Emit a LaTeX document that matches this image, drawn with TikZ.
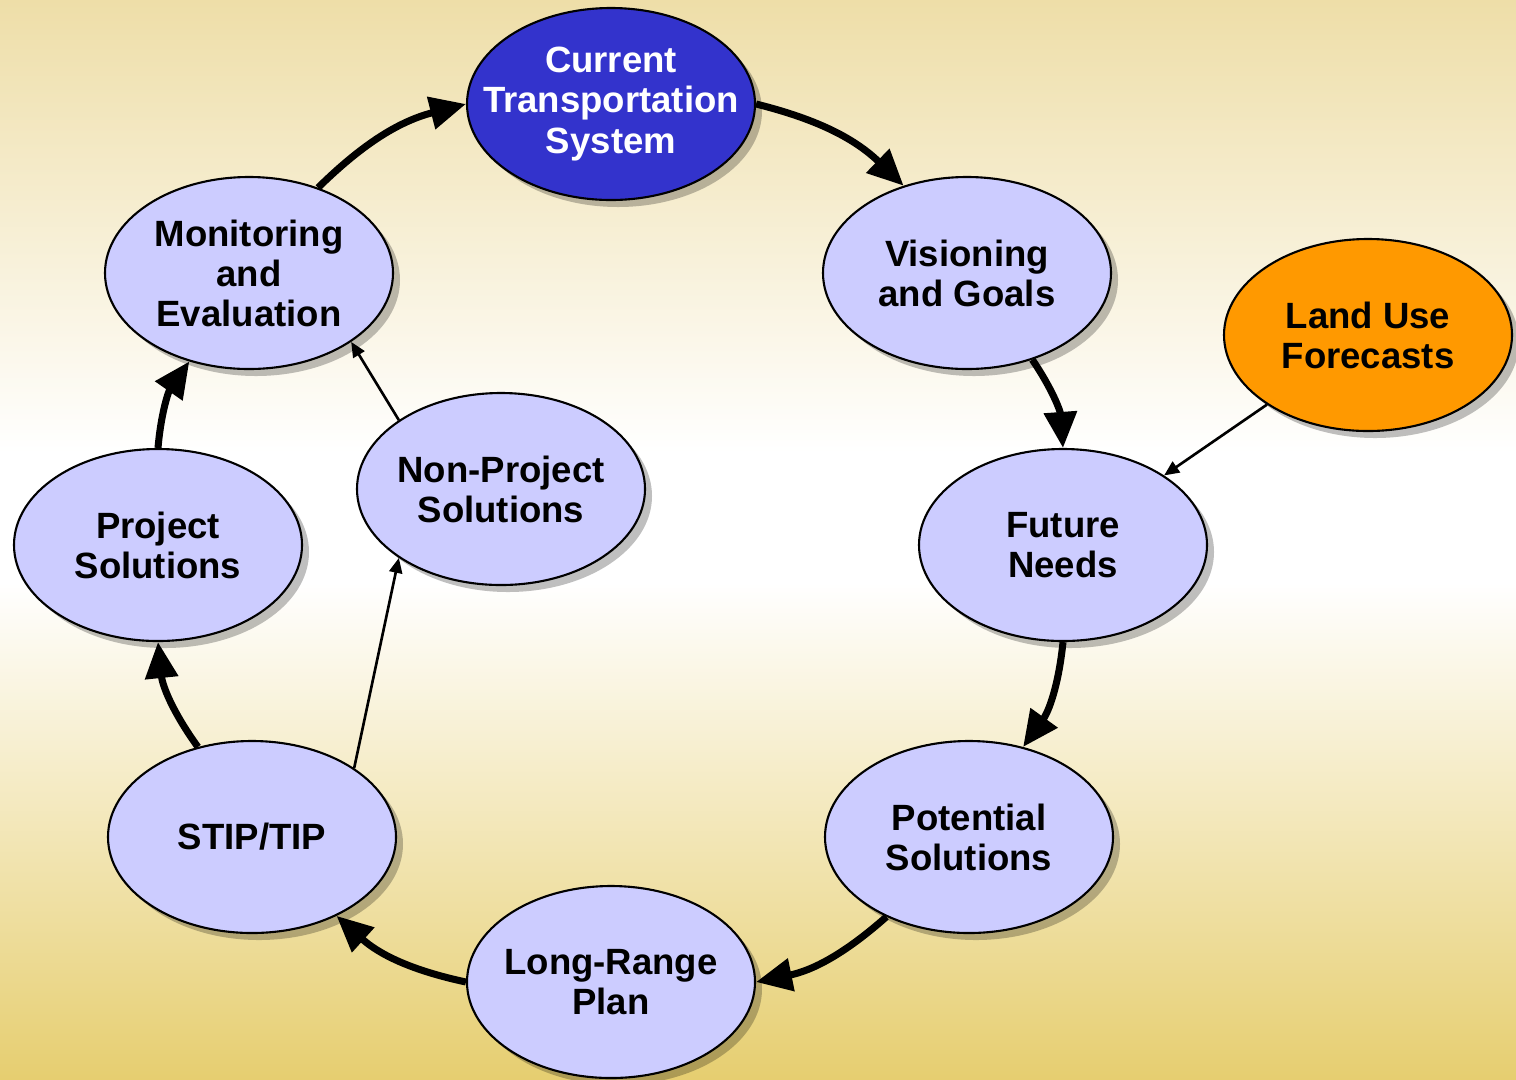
\documentclass[tikz,border=0pt]{standalone}
\usepackage{fontspec}
\setmainfont{Liberation Sans}
\usetikzlibrary{arrows.meta,shapes.geometric,shadows}
\definecolor{bgtop}{HTML}{EEDEA8}
\definecolor{bgbottom}{HTML}{E6CE70}
\definecolor{stepfill}{HTML}{CCCCFF}
\definecolor{currentfill}{HTML}{3333CC}
\definecolor{landfill}{HTML}{FF9900}
\pgfdeclareverticalshading{bgshade}{100bp}{color(0bp)=(bgbottom); color(25bp)=(bgbottom);
	color(48bp)=(white); color(54bp)=(white); color(75bp)=(bgtop); color(100bp)=(bgtop)}

\begin{document}
\begin{tikzpicture}
	\shade [shading=bgshade] (0,0) rectangle (15.16,-10.79);
	\useasboundingbox (0,0) rectangle (15.16,-10.79);
	\begin{scope}[every node/.style = {ellipse, draw, line width=0.6pt, fill=stepfill,
			minimum width=2.88cm, minimum height=1.92cm, inner xsep=-0.5cm, inner ysep=0pt,
			align=center, font=\fontsize{10.4}{11.4}\selectfont\bfseries,
			drop shadow={shadow xshift=0.07cm, shadow yshift=-0.07cm, fill=black, opacity=0.25}}]
		\node [fill=currentfill, text=white] (cur) at (6.11,-1.04) {Current\\Transportation\\System};
		\node (vis) at (9.67,-2.73) {Visioning\\and Goals};
		\node [fill=landfill] (land) at (13.68,-3.35) {Land Use\\Forecasts};
		\node (fut) at (10.63,-5.45) {Future\\Needs};
		\node (pot) at (9.69,-8.37) {Potential\\Solutions};
		\node (lrp) at (6.11,-9.82) {Long-Range\\Plan};
		\node (stip) at (2.52,-8.37) {STIP/TIP};
		\node (proj) at (1.58,-5.45) {Project\\Solutions};
		\node (nonp) at (5.01,-4.89) {Non-Project\\Solutions};
		\node (mon) at (2.49,-2.73) {Monitoring\\and\\Evaluation};
	\end{scope}
	\begin{scope}[>={Triangle[length=0.36cm, width=0.32cm]},
			every edge/.style={draw=black, line width=2pt}]
		\path [->] (mon.51) edge[bend left=15] (cur.180);
		\path [->] (cur.0) edge[bend left=15] (vis.126);
		\path [->] (vis.307) edge[bend left=15] (fut.90);
		\path [->] (fut.270) edge[bend left=15] (pot.59);
		\path [->] (pot.224) edge[bend left=15] (lrp.0);
		\path [->] (lrp.180) edge[bend left=15] (stip.317);
		\path [->] (stip.121) edge[bend left=15] (proj.270);
		\path [->] (proj.90) edge[bend left=15] (mon.236);
	\end{scope}
	\begin{scope}[>={Triangle[length=0.15cm, width=0.13cm]},
			every edge/.style={draw=black, line width=0.75pt}]
		\path [->] (land) edge (fut);
		\path [->] (stip.34) edge (nonp.214);
		\path [->] (nonp.146) edge (mon.326);
	\end{scope}
\end{tikzpicture}
\end{document}
